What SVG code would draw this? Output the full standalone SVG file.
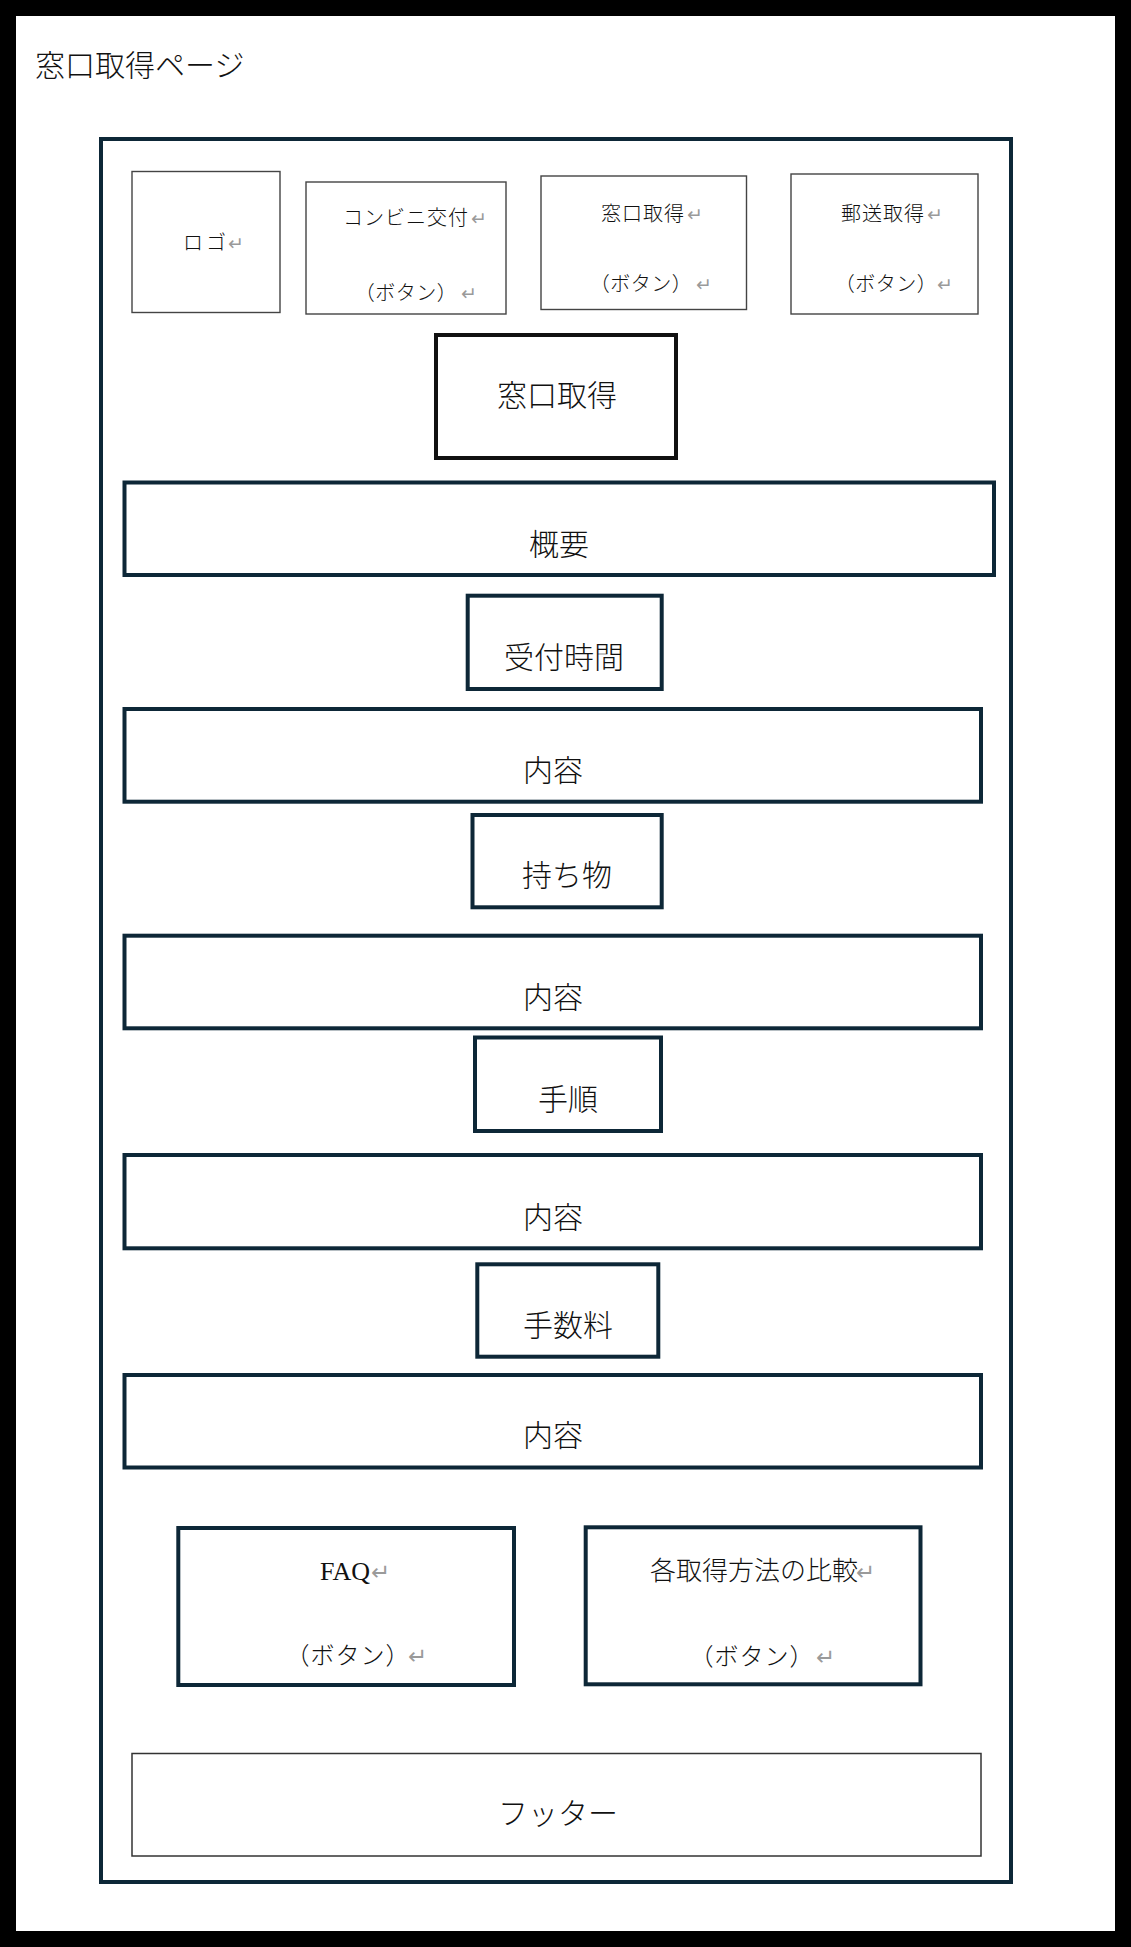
<svg xmlns="http://www.w3.org/2000/svg" width="1131" height="1947" viewBox="0 0 1131 1947">
<style>
.jp{font-family:"Liberation Serif","Noto Sans CJK JP",serif;fill:#111;font-weight:300;}
.btn{font-size:20px;letter-spacing:1px;}
.big{font-size:30px;text-anchor:middle;}
.bb{font-size:24px;letter-spacing:1px;}
.ret{font-family:"DejaVu Sans","Noto Sans CJK JP",sans-serif;fill:#9a9a9a;}
.r1{font-size:19px;}
.r2{font-size:23px;}
.thin{fill:#fff;stroke:#444;stroke-width:1.4;}
.navy{fill:#fff;stroke:#0d2737;stroke-width:4;}
.blk{fill:#fff;stroke:#111;stroke-width:4;}
.foot{fill:#fff;stroke:#333;stroke-width:1.5;}
</style>
<rect x="0" y="0" width="1131" height="1947" fill="#000"/>
<rect x="16" y="16" width="1099" height="1915" fill="#fff"/>
<text class="jp" x="35" y="76" font-size="30">窓口取得ページ</text>
<g id="page">
<rect class="navy" x="101" y="139" width="910" height="1743"/>
</g>
<g id="logo">
<rect class="thin" x="132" y="171.5" width="148" height="141"/>
<text class="jp btn" x="183" y="250" style="letter-spacing:3px">ロゴ</text>
<text class="ret r1" x="228" y="250">↵</text>
</g>
<g id="btn-konbini">
<rect class="thin" x="306" y="182" width="200" height="132"/>
<text class="jp btn" x="343" y="225">コンビニ交付</text>
<text class="ret r1" x="471" y="225">↵</text>
<text class="jp btn" x="406" y="300" text-anchor="middle" style="letter-spacing:0.5px">（ボタン）</text>
<text class="ret r1" x="461" y="300">↵</text>
</g>
<g id="btn-madoguchi">
<rect class="thin" x="541" y="176" width="205.5" height="133.5"/>
<text class="jp btn" x="601" y="220.5">窓口取得</text>
<text class="ret r1" x="687" y="220.5">↵</text>
<text class="jp btn" x="641" y="291" text-anchor="middle" style="letter-spacing:0.5px">（ボタン）</text>
<text class="ret r1" x="696" y="291">↵</text>
</g>
<g id="btn-yuso">
<rect class="thin" x="791" y="174" width="187" height="140"/>
<text class="jp btn" x="841" y="220.5">郵送取得</text>
<text class="ret r1" x="927" y="220.5">↵</text>
<text class="jp btn" x="886" y="291" text-anchor="middle" style="letter-spacing:0.5px">（ボタン）</text>
<text class="ret r1" x="937" y="291">↵</text>
</g>
<g id="title">
<rect class="blk" x="436" y="335" width="240" height="123"/>
<text class="jp big" x="557" y="406">窓口取得</text>
</g>
<g id="gaiyo">
<rect class="navy" x="124.5" y="482.5" width="869.5" height="92.5"/>
<text class="jp big" x="559" y="555">概要</text>
</g>
<g id="uketsuke">
<rect class="navy" x="467.7" y="595.7" width="194" height="93.3"/>
<text class="jp big" x="564" y="668">受付時間</text>
</g>
<g id="naiyo1">
<rect class="navy" x="124.5" y="709" width="856.5" height="92.7"/>
<text class="jp big" x="553" y="781">内容</text>
</g>
<g id="mochimono">
<rect class="navy" x="472.5" y="815" width="189.2" height="92.3"/>
<text class="jp big" x="567" y="886">持ち物</text>
</g>
<g id="naiyo2">
<rect class="navy" x="124.5" y="935.7" width="856.5" height="92.6"/>
<text class="jp big" x="553" y="1008">内容</text>
</g>
<g id="tejun">
<rect class="navy" x="475" y="1037.5" width="186" height="93.5"/>
<text class="jp big" x="568" y="1110">手順</text>
</g>
<g id="naiyo3">
<rect class="navy" x="124.5" y="1155" width="856.5" height="93.3"/>
<text class="jp big" x="553" y="1228">内容</text>
</g>
<g id="tesuryo">
<rect class="navy" x="477.3" y="1264.3" width="181" height="92.4"/>
<text class="jp big" x="568" y="1336">手数料</text>
</g>
<g id="naiyo4">
<rect class="navy" x="124.5" y="1375" width="856.5" height="92.5"/>
<text class="jp big" x="553" y="1446">内容</text>
</g>
<g id="faq">
<rect class="navy" x="178.3" y="1528" width="335.7" height="157"/>
<text class="jp" x="320" y="1580" font-size="26">FAQ</text>
<text class="ret r2" x="371" y="1580">↵</text>
<text class="jp bb" x="348" y="1664" text-anchor="middle">（ボタン）</text>
<text class="ret r2" x="408" y="1664">↵</text>
</g>
<g id="hikaku">
<rect class="navy" x="585.7" y="1527.3" width="334.8" height="157"/>
<text class="jp" x="650" y="1580" font-size="26">各取得方法の比較</text>
<text class="ret r2" x="856" y="1580">↵</text>
<text class="jp bb" x="752" y="1665" text-anchor="middle">（ボタン）</text>
<text class="ret r2" x="816" y="1665">↵</text>
</g>
<g id="footer">
<rect class="foot" x="132" y="1753.5" width="849" height="102.5"/>
<text class="jp big" x="558" y="1824">フッター</text>
</g>
<g id="connectors"/>
</svg>
